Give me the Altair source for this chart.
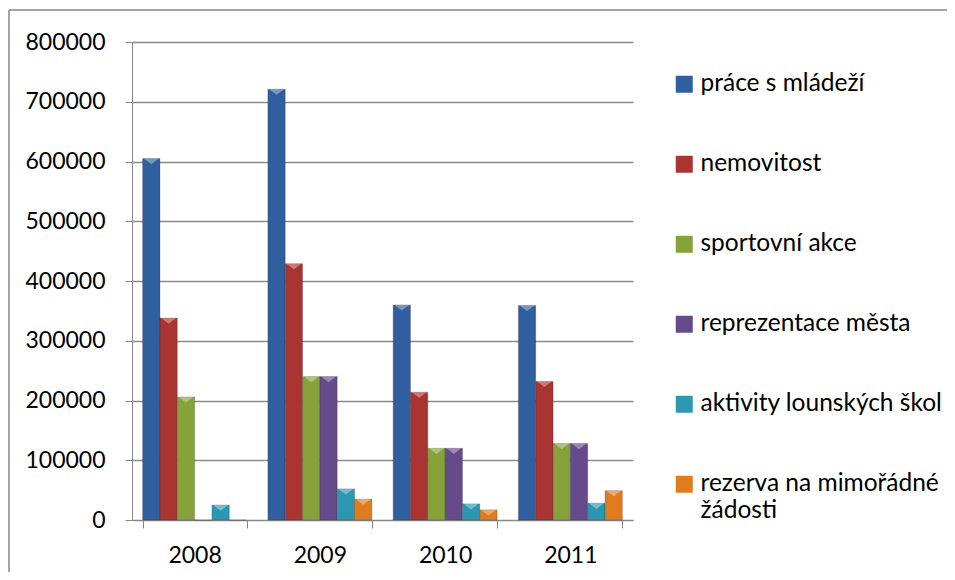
import altair as alt
import pandas as pd

years = ["2008", "2009", "2010", "2011"]
series = ["práce s mládeží", "nemovitost", "sportovní akce", "reprezentace města",
          "aktivity lounských škol", "rezerva na mimořádné žádosti"]
prace = [605000, 721000, 360000, 359000]
nemovitost = [338000, 429000, 214000, 232000]
sport = [206000, 240000, 120000, 128000]
reprezentace = [0, 240000, 120000, 128000]
aktivity = [25000, 52000, 27000, 28000]
rezerva = [0, 35000, 17000, 49000]

colors = ["#2F5F9E", "#AA3431", "#86A23B", "#654A8C", "#2C97B1", "#E07C1E"]

vals = [prace, nemovitost, sport, reprezentace, aktivity, rezerva]
rows = []
for s, v in zip(series, vals):
    for y, val in zip(years, v):
        rows.append({"rok": y, "polozka": s, "hodnota": val})
df = pd.DataFrame(rows)

FONT = "Lato"
W, H = 501, 478

x = alt.X("rok:N", title=None,
          scale=alt.Scale(paddingInner=0.17, paddingOuter=0.085),
          axis=alt.Axis(labelAngle=0, labelFont=FONT, labelFontSize=23, labelColor="#000000",
                        domainColor="#868686", tickColor="#868686", tickSize=8,
                        tickBand="extent", labelPadding=16, grid=False))
xo = alt.XOffset("polozka:N", sort=series, scale=alt.Scale(domain=series, paddingInner=0))
y = alt.Y("hodnota:Q", title=None,
          scale=alt.Scale(domain=[0, 800000], nice=False),
          axis=alt.Axis(values=list(range(0, 800001, 100000)), format="d",
                        labelFont=FONT, labelFontSize=23, labelColor="#000000",
                        domainColor="#868686", tickColor="#868686", tickSize=7,
                        labelPadding=20, gridColor="#8A8A8A", gridWidth=1.3))
color = alt.Color("polozka:N", sort=series,
                  scale=alt.Scale(domain=series, range=colors),
                  legend=alt.Legend(title=None, orient="none", legendX=540, legendY=30,
                                    symbolType="square", symbolSize=289, symbolStrokeWidth=0,
                                    labelFont=FONT, labelFontSize=24.5, labelColor="#000000",
                                    labelOffset=4, rowPadding=55, labelLimit=400, padding=0,
                                    labelExpr="datum.label == 'rezerva na mimořádné žádosti' ? ['rezerva na mimořádné', 'žádosti'] : datum.label"))

base = alt.Chart(df)
bars = base.mark_bar(stroke="#1a1a1a", strokeOpacity=0.35, strokeWidth=0.6).encode(
    x=x, xOffset=xo, y=y, color=color)
caps = base.transform_filter("datum.hodnota > 0").mark_point(
    shape="M-1,0L1,0L0,0.75Z", size=225, filled=True, fill="#ffffff",
    opacity=0.35, strokeWidth=0).encode(x=x, xOffset=xo, y=y)

frame_df = pd.DataFrame({"k": [0]})
left_border = alt.Chart(frame_df).mark_rule(color="#868686", strokeWidth=1.5).encode(
    x=alt.value(-123), y=alt.value(-32), y2=alt.value(530))
top_border = alt.Chart(frame_df).mark_rule(color="#868686", strokeWidth=1.5).encode(
    x=alt.value(-123), x2=alt.value(815), y=alt.value(-32))

chart = alt.layer(bars, caps, left_border, top_border).properties(
    width=W, height=H,
    autosize=alt.AutoSizeParams(type="none"),
    padding={"left": 124, "top": 34, "right": 314, "bottom": 52},
    background="#ffffff",
).configure_view(stroke=None)

chart.save("out.html", embed_options={"renderer": "svg", "actions": False})
